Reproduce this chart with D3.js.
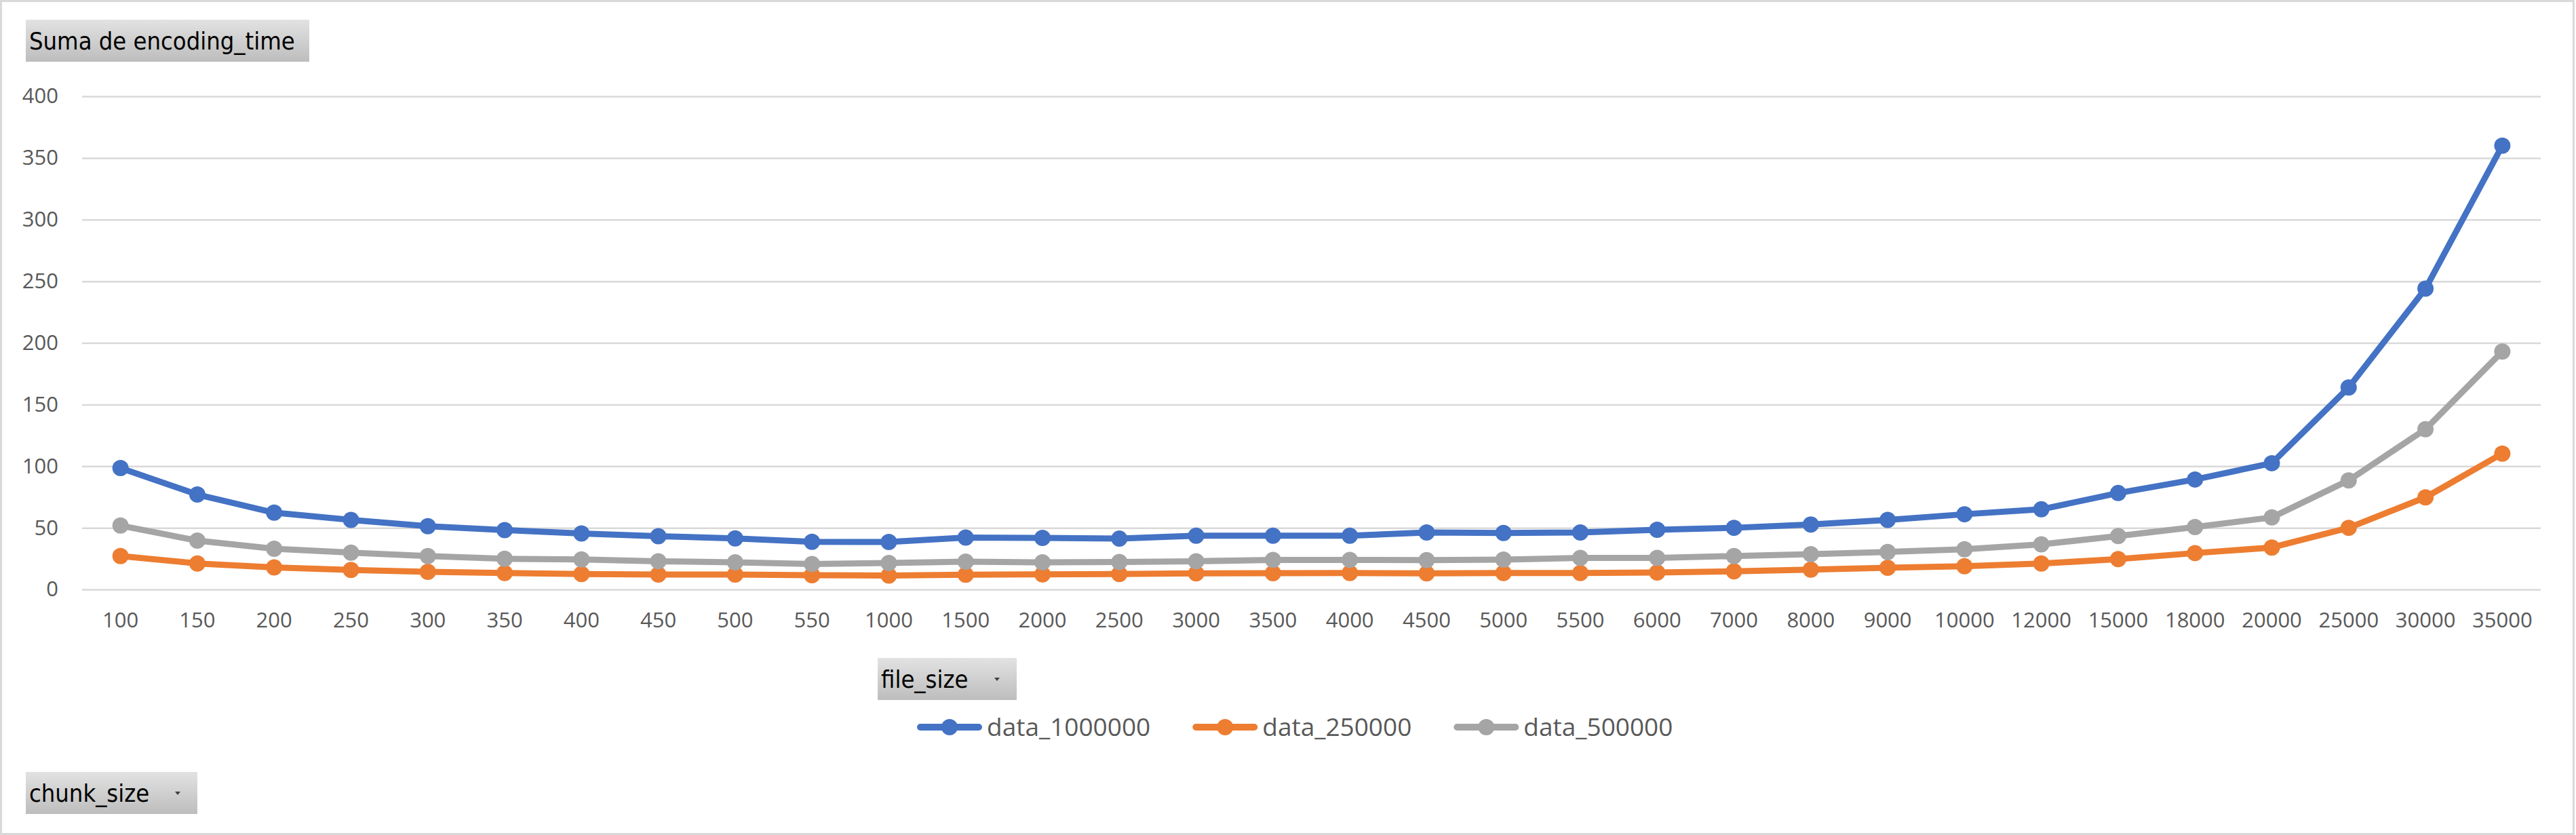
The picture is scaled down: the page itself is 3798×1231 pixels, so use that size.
<!DOCTYPE html>
<html>
<head>
<meta charset="utf-8">
<script src="https://cdn.jsdelivr.net/npm/d3@7"></script>
<style>
  html, body { margin: 0; padding: 0; background: #ffffff; }
  svg { display: block; }
</style>
</head>
<body>
<svg id="chart" width="3798" height="1231"></svg>
<script>
// ---------- data ----------
const categories = ["100","150","200","250","300","350","400","450","500","550","1000","1500","2000","2500","3000","3500","4000","4500","5000","5500","6000","7000","8000","9000","10000","12000","15000","18000","20000","25000","30000","35000"];
const seriesNames = ["data_1000000", "data_250000", "data_500000"];
const data_1000000 = [98.5,77,62.3,56.4,51.3,48.2,45.4,43.2,41.4,38.6,38.5,42.1,41.8,41.2,43.6,43.6,43.6,46.2,45.8,46.2,48.4,50,52.7,56.4,61,65,78.2,89.2,102.4,163.8,244,360];
const data_250000  = [27.1,21.1,17.9,15.8,14.3,13.4,12.5,12.1,12.1,11.5,11.3,11.9,12.3,12.5,13,13.2,13.4,13,13.4,13.4,13.7,14.7,16.1,17.6,18.9,21,24.6,29.5,34,50,74.7,110.2];
const data_500000  = [51.8,39.6,33,29.9,27.1,24.9,24.4,22.9,22,20.7,21.4,22.5,22,22.3,22.9,24,24,23.8,24.2,25.6,25.6,27.1,28.6,30.4,32.6,36.6,43.3,50.6,58.4,88.5,130,193];
const yTicks = [0,50,100,150,200,250,300,350,400];
const valueFieldLabel = "Suma de encoding_time";
const axisFieldLabel = "file_size";
const legendFieldLabel = "chunk_size";

const seriesValues = [data_1000000, data_250000, data_500000];
const colors = ["#4472C4", "#ED7D31", "#A5A5A5"];

// ---------- layout ----------
const svg = d3.select("#chart");
const W = 3798, H = 1231;
const plotL = 121, plotR = 3746, plotT = 142, plotB = 869;
const tickFont = "'Open Sans', 'Noto Sans', sans-serif";
const btnFont = "'DejaVu Sans Condensed', 'Liberation Sans', sans-serif";

svg.append("rect").attr("x", 0).attr("y", 0).attr("width", W).attr("height", H).attr("fill", "#ffffff");

const defs = svg.append("defs");
const grad = defs.append("linearGradient").attr("id", "btnGrad").attr("x1", 0).attr("y1", 0).attr("x2", 0).attr("y2", 1);
grad.append("stop").attr("offset", "0%").attr("stop-color", "#e2e2e2");
grad.append("stop").attr("offset", "100%").attr("stop-color", "#bdbdbd");

const x = d3.scaleBand().domain(categories).range([plotL, plotR]).paddingInner(0).paddingOuter(0);
const y = d3.scaleLinear().domain([0, 400]).range([plotB, plotT]);
const cx = c => x(c) + x.bandwidth() / 2;

// y axis with gridlines
const yAxis = svg.append("g").attr("transform", `translate(${plotL},0)`)
  .call(d3.axisLeft(y).tickValues(yTicks).tickSize(-(plotR - plotL)).tickPadding(35).tickFormat(d3.format("d")));
yAxis.select(".domain").remove();
yAxis.selectAll(".tick line").attr("stroke", "#d9d9d9").attr("stroke-width", 2.5);
yAxis.selectAll(".tick text").attr("fill", "#595959").style("font-family", tickFont).style("font-size", "31px");

// x axis
const xAxis = svg.append("g").attr("transform", `translate(0,${plotB})`)
  .call(d3.axisBottom(x).tickSize(0).tickPadding(34));
xAxis.select(".domain").remove();
xAxis.selectAll(".tick text").attr("fill", "#595959").style("font-family", tickFont).style("font-size", "31px");

// series
const line = d3.line().x((d, i) => cx(categories[i])).y(d => y(d));
seriesValues.forEach((vals, si) => {
  const g = svg.append("g");
  g.append("path").datum(vals).attr("d", line)
    .attr("fill", "none").attr("stroke", colors[si]).attr("stroke-width", 9)
    .attr("stroke-linejoin", "round").attr("stroke-linecap", "round");
  g.selectAll("circle").data(vals).enter().append("circle")
    .attr("cx", (d, i) => cx(categories[i])).attr("cy", d => y(d))
    .attr("r", 12).attr("fill", colors[si]);
});

// legend
let lx = 1352;
const ly = 1072;
seriesNames.forEach((name, si) => {
  const g = svg.append("g");
  g.append("line").attr("x1", lx + 5).attr("x2", lx + 91).attr("y1", ly).attr("y2", ly)
    .attr("stroke", colors[si]).attr("stroke-width", 10).attr("stroke-linecap", "round");
  g.append("circle").attr("cx", lx + 48).attr("cy", ly).attr("r", 12).attr("fill", colors[si]);
  const t = g.append("text").attr("x", lx + 103).attr("y", 1085).text(name)
    .attr("fill", "#595959").style("font-family", tickFont).style("font-size", "37px");
  const tw = t.node().getComputedTextLength();
  lx = lx + 103 + tw + 62;
});

// field buttons
function button(bx, by, bw, label, arrow) {
  const g = svg.append("g");
  g.append("rect").attr("x", bx).attr("y", by).attr("width", bw).attr("height", 62).attr("fill", "url(#btnGrad)");
  g.append("text").attr("x", bx + 5).attr("y", by + 44).text(label)
    .attr("fill", "#000000").style("font-family", btnFont).style("font-size", "36px");
  if (arrow) {
    const ax = bx + bw - 29, ay = by + 31;
    g.append("path").attr("d", `M${ax - 4},${ay - 2} L${ax + 4},${ay - 2} L${ax},${ay + 3} Z`).attr("fill", "#404040");
  }
}
button(38, 29, 418, valueFieldLabel, false);
button(1294, 970, 205, axisFieldLabel, true);
button(38, 1138, 253, legendFieldLabel, true);

// outer border
svg.append("rect").attr("x", 1.5).attr("y", 1.5).attr("width", 3793).attr("height", 1228)
  .attr("fill", "none").attr("stroke", "#d9d9d9").attr("stroke-width", 3);
</script>
</body>
</html>
